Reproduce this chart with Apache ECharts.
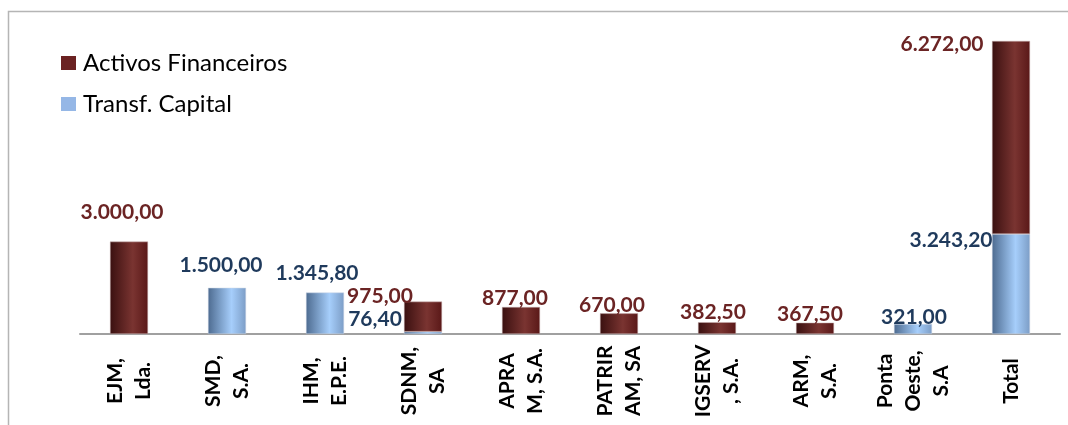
<!DOCTYPE html>
<html><head><meta charset="utf-8">
<script src="https://cdn.jsdelivr.net/npm/echarts@6/dist/echarts.min.js"></script>
<style>html,body{margin:0;padding:0;background:#fff}#c{width:1068px;height:425px}</style>
</head><body><div id="c"></div>
<script>
const categories = ['EJM,\nLda.', 'SMD,\nS.A.', 'IHM,\nE.P.E.', 'SDNM,\nSA', 'APRA\nM, S.A.', 'PATRIR\nAM, SA', 'IGSERV\n, S.A.', 'ARM,\nS.A.', 'Ponta\nOeste,\nS.A', 'Total'];
const transfCapital = [null, 1500.00, 1345.80, 76.40, null, null, null, null, 321.00, 3243.20];
const activosFinanceiros = [3000.00, null, null, 975.00, 877.00, 670.00, 382.50, 367.50, null, 6272.00];
// label offsets [dx, dy] relative to default 'top' position (style only)
const transfOffsets = [null, [-6, -10], [-8, -6], [-48, 1], null, null, null, null, [1, 6], [-60, 19]];
const activosOffsets = [[-7, -16], null, null, [-43, 8], [-6, 4], [-7, 5], [-4, 3], [-5, 5], null, [-69, 16]];

function fmt(v) {
  const parts = v.toFixed(2).split('.');
  parts[0] = parts[0].replace(/\B(?=(\d{3})+(?!\d))/g, '.');
  return parts[0] + ',' + parts[1];
}
const redGrad = new echarts.graphic.LinearGradient(0, 0, 1, 0, [
  {offset: 0, color: '#3a1010'}, {offset: 0.6, color: '#7a3431'}, {offset: 1, color: '#5a1818'}]);
const blueGrad = new echarts.graphic.LinearGradient(0, 0, 1, 0, [
  {offset: 0, color: '#4d6b90'}, {offset: 0.62, color: '#a6cefb'}, {offset: 1, color: '#7c9dc6'}]);

function build(values, offsets) {
  return values.map((v, i) => {
    if (v == null) return null;
    return {value: v, label: {offset: offsets[i] || [0, 0]}};
  });
}
const labelBase = {show: true, position: 'top', distance: 2, fontFamily: 'Lato', fontWeight: 'bold', fontSize: 21,
  lineHeight: 22, formatter: p => fmt(p.value)};

const chart = echarts.init(document.getElementById('c'));
chart.setOption({
  animation: false,
  graphic: [{type: 'rect', shape: {x: 8.5, y: 11.5, width: 1200, height: 600},
    style: {fill: 'none', stroke: '#b5b5b5', lineWidth: 1.5}, silent: true, z: -1}],
  legend: {orient: 'vertical', left: 56, top: 46, itemWidth: 15, itemHeight: 14, itemGap: 17,
    icon: 'rect',
    textStyle: {fontFamily: 'Lato', fontSize: 24, color: '#000', lineHeight: 24, padding: [0, 0, 0, 2]},
    data: [{name: 'Activos Financeiros', itemStyle: {color: '#6b2222', borderWidth: 0}},
           {name: 'Transf. Capital', itemStyle: {color: '#95b7e6', borderWidth: 0}}]},
  grid: {left: 80, right: 8, top: 26, bottom: 91, containLabel: false},
  xAxis: {type: 'category', data: categories,
    axisLine: {lineStyle: {color: '#a0a0a0', width: 2}}, axisTick: {show: false},
    axisLabel: {interval: 0, rotate: 90, align: 'center', verticalAlign: 'middle', margin: 47,
      fontFamily: 'Lato', fontWeight: 'bold', fontSize: 21, color: '#000', lineHeight: 28}},
  yAxis: {type: 'value', min: 0, max: 10000, show: false, splitLine: {show: false}},
  series: [
    {name: 'Transf. Capital', type: 'bar', stack: 's', barWidth: 38,
      data: build(transfCapital, transfOffsets),
      itemStyle: {color: blueGrad, borderColor: '#c8d4e4', borderWidth: 0.5},
      label: Object.assign({}, labelBase, {color: '#1f3a5c'})},
    {name: 'Activos Financeiros', type: 'bar', stack: 's', barWidth: 38,
      data: build(activosFinanceiros, activosOffsets),
      itemStyle: {color: redGrad, borderColor: '#c9b0b0', borderWidth: 0.5},
      label: Object.assign({}, labelBase, {color: '#6b2424'})}
  ]
});
</script></body></html>
